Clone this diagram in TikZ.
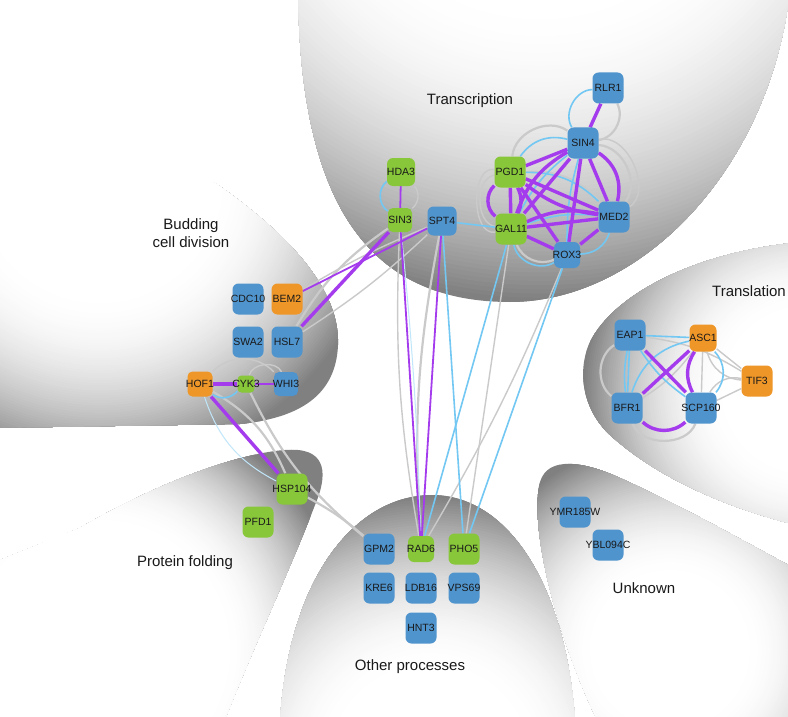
\documentclass[tikz,border=0pt]{standalone}
\usepackage{fontspec}
\setmainfont{Liberation Sans}
\definecolor{nblue}{RGB}{80,148,205}
\definecolor{ngreen}{RGB}{136,198,58}
\definecolor{norange}{RGB}{238,150,40}
\definecolor{epurple}{RGB}{164,60,238}
\definecolor{eblue}{RGB}{115,200,243}
\definecolor{egray}{RGB}{202,202,202}
\definecolor{txtc}{RGB}{25,25,25}
\pgfdeclarelayer{bg}
\pgfdeclarelayer{edges}
\pgfsetlayers{bg,edges,main}
% #1,#2 centre, #3 radius of darkest edge, #4 white core fraction
\newcommand{\myregionfill}[4]{%
  \fill[black!50] (#1,#2) circle ({1.8*#3});
  \foreach \k in {0,...,70}{%
    \pgfmathsetmacro\dd{1.0-\k*(1-#4)/70}%
    \pgfmathsetmacro\cc{50*((\dd-#4)/(1-#4))^2}%
    \fill[black!\cc] (#1,#2) circle ({\dd*#3});
  }%
}
\tikzset{
  bx/.style={rectangle, rounded corners=6pt, minimum width=31pt, minimum height=31pt, inner sep=0pt, draw=none},
  gt/.style={font=\fontsize{10.5}{12}\selectfont, text=txtc, inner sep=0pt},
  rlab/.style={font=\fontsize{15}{18.5}\selectfont, text=txtc, inner sep=0pt},
  gE/.style={draw=egray, line width=2.2pt},
  gEt/.style={draw=egray, line width=1.4pt},
  bE/.style={draw=eblue, line width=1.6pt},
  bEl/.style={draw=eblue!45, line width=1pt},
  pE/.style={draw=epurple, line width=3.4pt},
  pEt/.style={draw=epurple, line width=1.8pt},
}
\begin{document}
\begin{tikzpicture}[x=1pt, y=-1pt]
\useasboundingbox (0,0) rectangle (788,717);
\begin{pgfonlayer}{bg}
\fill[white] (0,0) rectangle (788,717);
% Transcription
\begin{scope}
\clip (298,-10) .. controls (300,220) and (380,302) .. (510,302) .. controls (640,302) and (770,170) .. (790,-10) -- cycle;
\myregionfill{540}{-190}{492}{0.4}
\end{scope}
% Budding cell division
\begin{scope}
\clip (-10,428) -- (-10,150) -- (215,183) .. controls (290,235) and (340,290) .. (338,345) .. controls (336,395) and (300,418) .. (240,424) -- cycle;
\myregionfill{100}{180}{290}{0.4}
\end{scope}
\fill[white] (100,180) circle (113);
% Protein folding
\begin{scope}
\clip (-10,564) -- (80,528) .. controls (180,470) and (265,447) .. (298,450) .. controls (330,453) and (325,482) .. (315,505) .. controls (292,565) and (252,650) .. (226,717) -- (-10,717) -- cycle;
\myregionfill{100}{650}{250}{0.5}
\end{scope}
\fill[white] (100,650) circle (122);
% Other processes
\begin{scope}
\clip (280,720) .. controls (290,570) and (360,495) .. (432,495) .. controls (505,495) and (565,580) .. (575,720) -- cycle;
\myregionfill{430}{765}{270}{0.35}
\end{scope}
% Unknown
\begin{scope}
\clip (597,720) .. controls (550,620) and (530,520) .. (540,482) .. controls (548,455) and (585,462) .. (620,478) .. controls (690,510) and (750,545) .. (792,567) -- (792,720) -- cycle;
\myregionfill{670}{650}{212}{0.35}
\end{scope}
% Translation
\begin{scope}
\clip (792,243) .. controls (700,253) and (620,290) .. (592,338) .. controls (575,370) and (583,410) .. (610,435) .. controls (660,480) and (730,508) .. (792,524) -- cycle;
\myregionfill{805}{390}{222}{0.35}
\end{scope}
\end{pgfonlayer}

% region labels
\node[rlab] (lTrans) at (470,101) {Transcription};
\node[rlab, align=center] (lBud) at (191,233) {Budding\\cell division};
\node[rlab] (lTransl) at (749,291) {Translation};
\node[rlab] (lProt) at (185,563) {Protein folding};
\node[rlab] (lOther) at (410,667) {Other processes};
\node[rlab] (lUnk) at (644,588) {Unknown};

% genes
\node[bx, fill=nblue, label={[gt]center:RLR1}] (rlr1) at (608,88) {};
\node[bx, fill=nblue, label={[gt]center:SIN4}] (sin4) at (583,143) {};
\node[bx, fill=ngreen, label={[gt]center:PGD1}] (pgd1) at (510,172) {};
\node[bx, fill=ngreen, minimum size=28pt, label={[gt]center:HDA3}] (hda3) at (401,172) {};
\node[bx, fill=ngreen, minimum size=24pt, rounded corners=5pt, label={[gt]center:SIN3}] (sin3) at (400,220) {};
\node[bx, fill=nblue, minimum size=29pt, label={[gt]center:SPT4}] (spt4) at (442,221) {};
\node[bx, fill=ngreen, label={[gt]center:GAL11}] (gal11) at (511,229) {};
\node[bx, fill=nblue, label={[gt]center:MED2}] (med2) at (614,217) {};
\node[bx, fill=nblue, minimum size=26pt, label={[gt]center:ROX3}] (rox3) at (567,255) {};

\node[bx, fill=nblue, label={[gt]center:CDC10}] (cdc10) at (248,299) {};
\node[bx, fill=norange, label={[gt]center:BEM2}] (bem2) at (287,299) {};
\node[bx, fill=nblue, label={[gt]center:SWA2}] (swa2) at (248,342) {};
\node[bx, fill=nblue, label={[gt]center:HSL7}] (hsl7) at (287,342) {};
\node[bx, fill=norange, minimum size=25pt, rounded corners=5pt, label={[gt]center:HOF1}] (hof1) at (200,384) {};
\node[bx, fill=ngreen, minimum size=17pt, rounded corners=4pt, label={[gt]center:CYK3}] (cyk3) at (246,384) {};
\node[bx, fill=nblue, minimum size=24pt, rounded corners=5pt, label={[gt]center:WHI3}] (whi3) at (286,384) {};

\node[bx, fill=ngreen, label={[gt]center:HSP104}] (hsp104) at (292,489) {};
\node[bx, fill=ngreen, label={[gt]center:PFD1}] (pfd1) at (258,522) {};

\node[bx, fill=nblue, label={[gt]center:GPM2}] (gpm2) at (379,549) {};
\node[bx, fill=ngreen, minimum size=26pt, label={[gt]center:RAD6}] (rad6) at (421,549) {};
\node[bx, fill=ngreen, label={[gt]center:PHO5}] (pho5) at (464,549) {};
\node[bx, fill=nblue, label={[gt]center:KRE6}] (kre6) at (379,588) {};
\node[bx, fill=nblue, label={[gt]center:LDB16}] (ldb16) at (421,588) {};
\node[bx, fill=nblue, label={[gt]center:VPS69}] (vps69) at (464,588) {};
\node[bx, fill=nblue, label={[gt]center:HNT3}] (hnt3) at (421,628) {};

\node[bx, fill=nblue, label={[gt]center:EAP1}] (eap1) at (630,335) {};
\node[bx, fill=norange, minimum size=27pt, label={[gt]center:ASC1}] (asc1) at (703,338) {};
\node[bx, fill=norange, label={[gt]center:TIF3}] (tif3) at (757,381) {};
\node[bx, fill=nblue, label={[gt]center:BFR1}] (bfr1) at (627,408) {};
\node[bx, fill=nblue, label={[gt]center:SCP160}] (scp160) at (701,408) {};

\node[bx, fill=nblue, label={[gt]center:YMR185W}] (ymr) at (575,512) {};
\node[bx, fill=nblue, label={[gt]center:YBL094C}] (ybl) at (608,545) {};

\begin{pgfonlayer}{edges}
% ---- gray edges
\draw[gE] (rlr1) to[bend left=55] (sin4);
\draw[gE] (sin4) to[bend left=60] (med2);
\draw[gEt] (sin4) to[bend left=80] (med2);
\draw[gE] (sin4) to[bend right=60] (pgd1);
\draw[gEt] (pgd1) to[bend right=80] (gal11);
\draw[gEt] (pgd1) to[bend right=100] (gal11);
\draw[gE] (gal11) to[bend right=45] (rox3);
\draw[gEt] (pgd1) to[bend left=25] (med2);
\draw[gEt] (hda3) to[bend left=45] (sin3);
\draw[gE] (sin3) to[bend right=12] (hsl7);
\draw[gEt] (spt4) to[bend left=5] (hsl7);
\draw[gEt] (spt4) to[bend right=4] (bem2);
\draw[gEt] (sin3) to[bend right=6] (rad6);
\draw[gE] (spt4) to[bend right=7] (rad6);
\draw[gEt] (gal11) -- (pho5);
\draw[gEt] (rox3) to[bend left=4] (rad6);
\draw[gE] (hof1) to[bend left=18] (hsp104);
\draw[gEt] (hof1) to[bend left=45] (whi3);
\draw[gEt] (cyk3) to[bend left=70] (whi3);
\draw[gE] (cyk3) to[bend right=12] (gpm2);
\draw[gE] (hsp104) to[bend left=6] (gpm2);
\draw[gE] (eap1) to[bend right=55] (bfr1);
\draw[gE] (bfr1) to[bend right=70] (scp160);
\draw[gEt] (asc1) -- (tif3);
\draw[gEt] (scp160) -- (tif3);
\draw[gEt] (asc1) to[bend right=35] (tif3);
\draw[gEt] (scp160) to[bend left=35] (tif3);
\draw[gEt] (asc1) -- (scp160);
\draw[gEt] (eap1) to[bend left=12] (tif3);
\draw[gEt] (bfr1) to[bend right=10] (asc1);
% ---- blue edges
\draw[bE] (rlr1) to[bend right=60] (sin4);
\draw[bE] (sin4) to[bend right=35] (pgd1);
\draw[bE] (pgd1) to[bend left=22] (med2);
\draw[bE] (gal11) to[bend left=12] (med2);
\draw[bE] (sin4) to[bend right=8] (rox3);
\draw[bE] (sin4) to[bend right=12] (gal11);
\draw[bE] (med2) to[bend left=35] (rox3);
\draw[bE] (gal11) to[bend right=55] (rox3);
\draw[bE] (spt4) -- (gal11);
\draw[bE] (hda3) to[bend right=55] (sin3);
\draw[bEl] (sin3) to[bend left=2] (rad6);
\draw[bE] (spt4) -- (pho5);
\draw[bE] (gal11) -- (rad6);
\draw[bE] (rox3) -- (pho5);
\draw[bE] (hof1) to[bend right=40] (cyk3);
\draw[bEl] (hof1) to[bend right=22] (hsp104);
\draw[bE] (eap1) -- (asc1);
\draw[bE] (eap1) -- (bfr1);
\draw[bE] (eap1) to[bend right=8] (bfr1);
\draw[bE] (eap1) to[bend right=10] (scp160);
\draw[bE] (bfr1) to[bend left=30] (asc1);
\draw[bE] (asc1) to[bend left=42] (scp160);
% ---- purple edges
\draw[pE] (rlr1) -- (sin4);
\draw[pE] (sin4) -- (pgd1);
\draw[pE] (sin4) -- (gal11);
\draw[pE] (sin4) -- (med2);
\draw[pE] (sin4) to[bend left=35] (med2);
\draw[pE] (sin4) -- (rox3);
\draw[pE] (pgd1) -- (gal11);
\draw[pE] (pgd1) to[bend right=50] (gal11);
\draw[pE] (pgd1) to[bend left=25] (gal11);
\draw[pE] (pgd1) -- (med2);
\draw[pE] (pgd1) to[bend right=15] (med2);
\draw[pE] (pgd1) -- (rox3);
\draw[pE] (gal11) -- (med2);
\draw[pE] (gal11) to[bend left=18] (med2);
\draw[pE] (gal11) -- (rox3);
\draw[pE] (med2) -- (rox3);
\draw[pE] (gal11) to[bend left=20] (sin4);
\draw[pEt] (hda3) -- (sin3);
\draw[pE] (sin3) -- (hsl7);
\draw[pEt] (spt4) -- (bem2);
\draw[pEt] (sin3) -- (rad6);
\draw[pEt] (spt4) -- (rad6);
\draw[pE] (hof1) -- (cyk3);
\draw[pEt] (cyk3) -- (whi3);
\draw[pE] (hof1) -- (hsp104);
\draw[pE] (eap1) -- (scp160);
\draw[pE] (bfr1) -- (asc1);
\draw[pE] (asc1) to[bend right=30] (scp160);
\draw[pE] (bfr1) to[bend right=42] (scp160);
\end{pgfonlayer}
\end{tikzpicture}
\end{document}
